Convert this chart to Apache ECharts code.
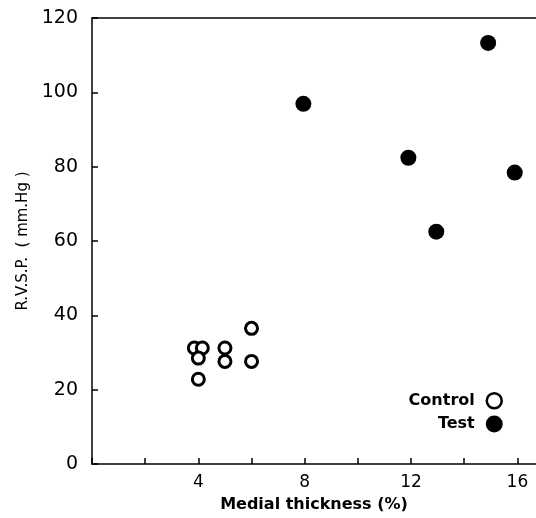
<!DOCTYPE html>
<html lang="en">
<head>
    <meta charset="UTF-8">
    <title>RVSP vs medial thickness</title>
    <script src="https://cdn.jsdelivr.net/npm/echarts@6/dist/echarts.min.js"></script>
</head>
<body style="margin:0">
<div id="main" style="width: 536px;height: 518px"></div>
<script>
    // medial thickness (%) , R.V.S.P. (mm.Hg)
    var controlData = [[3.85, 31.2], [4.15, 31.2], [4.0, 28.5], [5.0, 31.2], [5.0, 27.6], [6.0, 36.5], [6.0, 27.6], [4.0, 22.8]];
    var testData = [[7.95, 96.9], [11.9, 82.4], [12.95, 62.5], [14.9, 113.3], [15.9, 78.4]];
    var xLabels = [4, 8, 12, 16];   // only these ticks carry a label

    var myChart = echarts.init(document.getElementById('main'));
    var font = 'DejaVu Sans';

    var option = {
        backgroundColor: '#fff',
        animation: false,
        grid: {left: 92, top: 18, right: 0, bottom: 54},
        legend: {
            orient: 'vertical',
            right: 28,
            top: 387,
            align: 'right',
            itemGap: 6,
            itemWidth: 15,
            itemHeight: 15,
            selectedMode: false,
            textStyle: {color: '#000', fontFamily: font, fontSize: 16, fontWeight: 'bold', padding: [0, 7, 0, 0]},
            data: [
                {name: 'Control', icon: 'circle', itemStyle: {color: '#fff', borderColor: '#000', borderWidth: 2.5}},
                {name: 'Test', icon: 'circle', itemStyle: {color: '#000', borderColor: '#000', borderWidth: 2}}
            ]
        },
        xAxis: [{
            type: 'value',
            min: 0,
            max: 16.7,
            interval: 2,
            name: 'Medial thickness (%)',
            nameLocation: 'middle',
            nameGap: 33,
            nameTextStyle: {color: '#000', fontFamily: font, fontSize: 16, fontWeight: 'bold'},
            axisLine: {lineStyle: {color: '#000', width: 1.5}},
            axisTick: {inside: true, length: 6, lineStyle: {color: '#000', width: 1.5}},
            splitLine: {show: false},
            axisLabel: {
                color: '#000', fontFamily: font, fontSize: 17, margin: 10, showMaxLabel: false,
                formatter: function (v) {
                    return xLabels.indexOf(v) >= 0 ? String(v) : '';
                }
            }
        }, {
            type: 'value',
            position: 'top',
            min: 0,
            max: 16.7,
            axisLine: {lineStyle: {color: '#000', width: 1.5}},
            axisTick: {show: false},
            axisLabel: {show: false},
            splitLine: {show: false}
        }],
        yAxis: {
            type: 'value',
            min: 0,
            max: 120,
            interval: 20,
            name: 'R.V.S.P.  ( mm.Hg )',
            nameLocation: 'middle',
            nameGap: 54,
            nameTextStyle: {color: '#000', fontFamily: font, fontSize: 15},
            axisLine: {show: true, lineStyle: {color: '#000', width: 1.5}},
            axisTick: {show: true, inside: true, length: 6, lineStyle: {color: '#000', width: 1.5}},
            splitLine: {show: false},
            axisLabel: {color: '#000', fontFamily: font, fontSize: 19, margin: 14}
        },
        series: [{
            name: 'Control',
            type: 'scatter',
            symbol: 'circle',
            symbolSize: 12,
            itemStyle: {color: '#fff', borderColor: '#000', borderWidth: 3, opacity: 1},
            data: controlData
        }, {
            name: 'Test',
            type: 'scatter',
            symbol: 'circle',
            symbolSize: 16,
            itemStyle: {color: '#000', opacity: 1},
            data: testData
        }]
    };
    myChart.setOption(option);
</script>
</body>
</html>
